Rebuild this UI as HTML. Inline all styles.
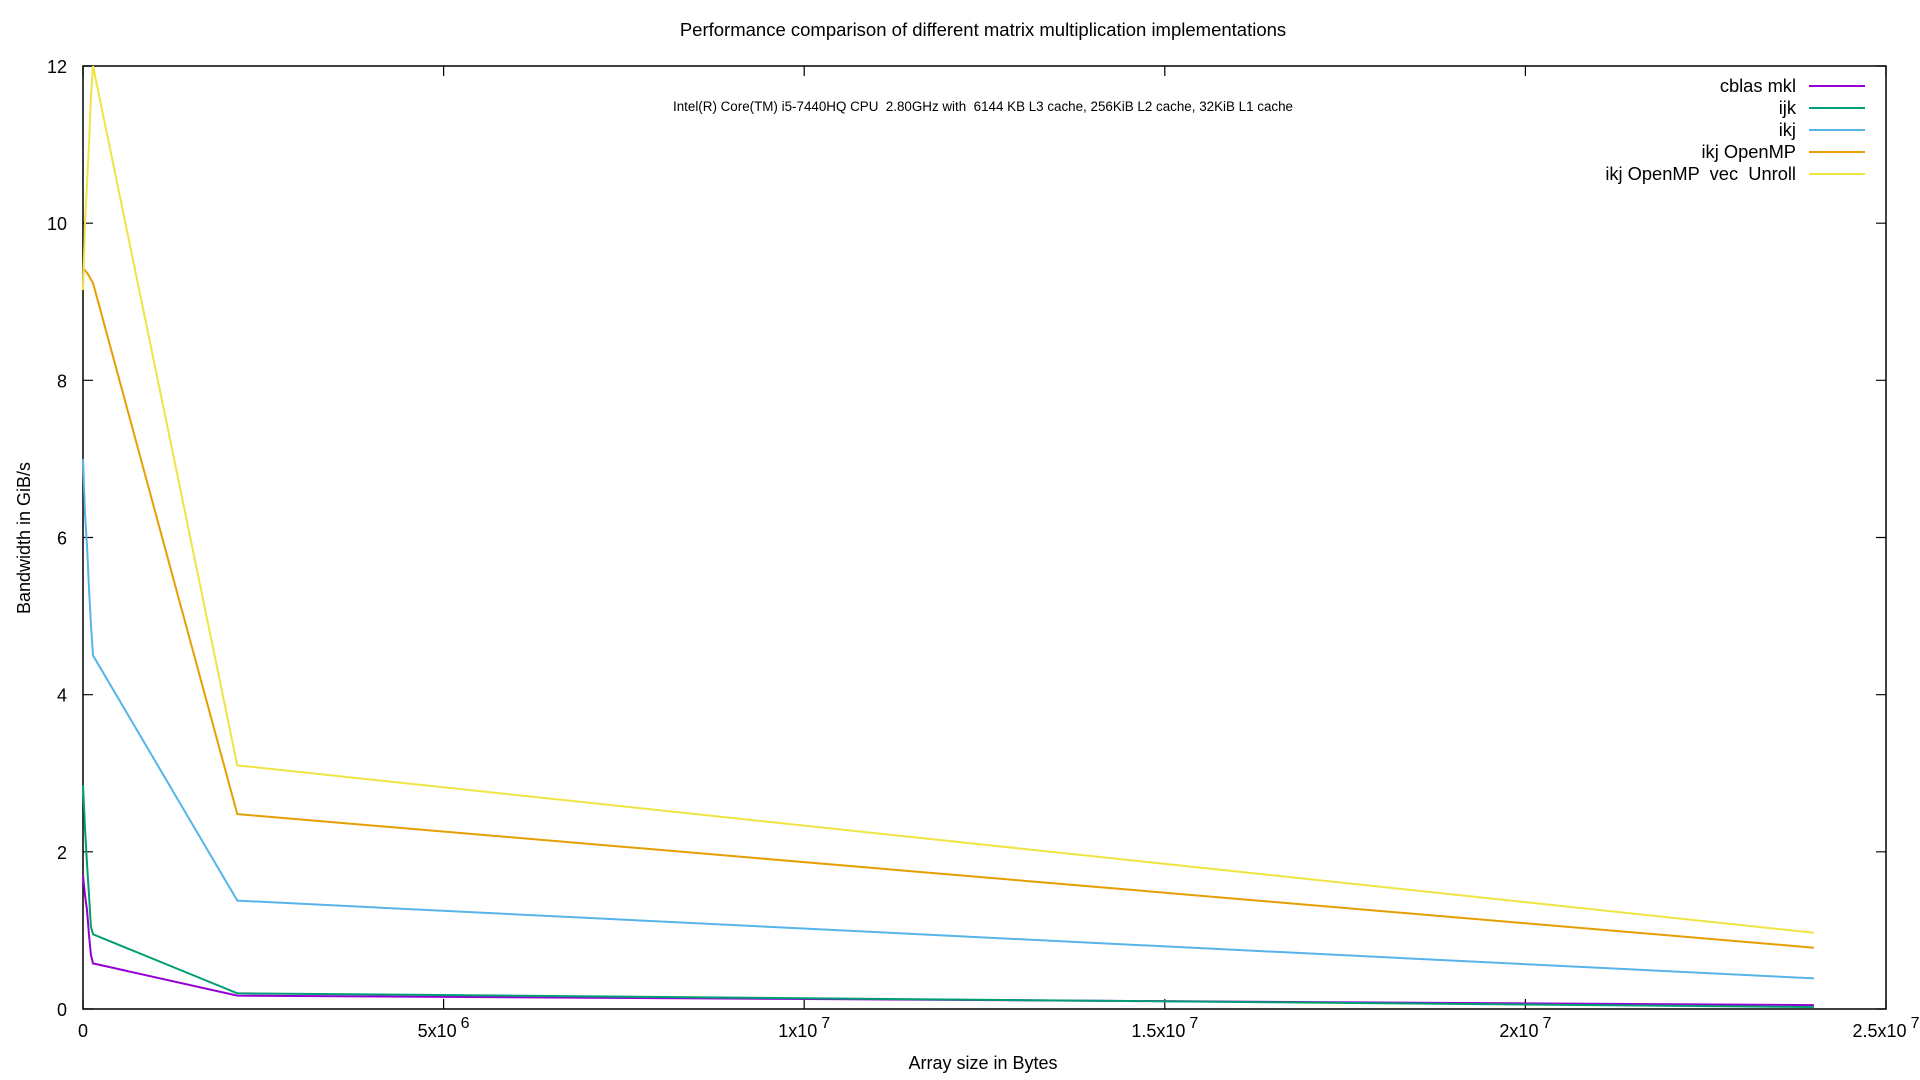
<!DOCTYPE html>
<html><head><meta charset="utf-8"><style>
html,body{margin:0;padding:0;background:#fff;}
svg{display:block;font-family:"Liberation Sans",sans-serif;}
text{white-space:pre;}
</style></head><body>
<svg id="chart" width="1920" height="1080" xmlns="http://www.w3.org/2000/svg">
<text x="983" y="36" font-size="18.5" text-anchor="middle">Performance comparison of different matrix multiplication implementations</text>
<text x="983" y="111" font-size="13.4" text-anchor="middle" xml:space="preserve">Intel(R) Core(TM) i5-7440HQ CPU  2.80GHz with  6144 KB L3 cache, 256KiB L2 cache, 32KiB L1 cache</text>
<text x="983" y="1069" font-size="18" text-anchor="middle">Array size in Bytes</text>
<text x="30" y="538" font-size="18" text-anchor="middle" transform="rotate(-90 30 538)">Bandwidth in GiB/s</text>
<g id="axes"></g>
<g id="series"></g>
<g id="legend"></g>
</svg>
<script>
const xValues = [0, 28000, 55000, 83000, 110000, 139000, 2140000, 24000000];
const mklValues = [1.7, 1.45, 1.26, 0.94, 0.69, 0.58, 0.17, 0.05];
const ijkValues = [2.85, 2.3, 1.85, 1.45, 1.05, 0.95, 0.2, 0.025];
const ikjValues = [7.0, 6.3, 5.9, 5.35, 4.9, 4.5, 1.38, 0.39];
const ompValues = [9.43, 9.4, 9.37, 9.33, 9.28, 9.24, 2.48, 0.78];
const vecValues = [9.15, 10.0, 10.5, 11.0, 11.6, 12.0, 3.1, 0.97];
const seriesNames = ["cblas mkl", "ijk", "ikj", "ikj OpenMP", "ikj OpenMP  vec  Unroll"];
const seriesColors = ["#9400d3", "#009e73", "#56b4e9", "#e69f00", "#f0e442"];
const yTicks = [0, 2, 4, 6, 8, 10, 12];
const xTicks = [0, 5e6, 1e7, 1.5e7, 2e7, 2.5e7];
const xTickMant = ["0", "5x10", "1x10", "1.5x10", "2x10", "2.5x10"];
const xTickExp = ["", "6", "7", "7", "7", "7"];

const NS = "http://www.w3.org/2000/svg";
const L = 83, R = 1886, T = 66, B = 1009;
const xMax = 2.5e7, yMax = 12;
function sx(v){ return L + v / xMax * (R - L); }
function sy(v){ return B - v / yMax * (B - T); }
function mk(tag, attrs, parent){
  const e = document.createElementNS(NS, tag);
  for (const k in attrs) e.setAttribute(k, attrs[k]);
  parent.appendChild(e);
  return e;
}
const axes = document.getElementById("axes");
const frame = mk("rect", {x:L, y:T, width:R-L, height:B-T, fill:"none", stroke:"#000", "stroke-width":1.5}, axes);


yTicks.forEach(v => {
  const y = sy(v);
  const t1 = mk("path", {d:`M${L},${y}h10M${R},${y}h-10`, stroke:"#000", "stroke-width":1.2}, axes);
  
  
  const lb = mk("text", {x:L-16, y:y+7, "font-size":18, "text-anchor":"end"}, axes);
  lb.textContent = String(v);
  
  
});
xTicks.forEach((v, i) => {
  const x = sx(v);
  const t1 = mk("path", {d:`M${x},${B}v-10M${x},${T}v10`, stroke:"#000", "stroke-width":1.2}, axes);
  
  
  const lb = mk("text", {x:x, y:1037, "font-size":18, "text-anchor":"middle"}, axes);
  lb.textContent = xTickMant[i];
  if (xTickExp[i]) {
    const sp = mk("tspan", {dx:4, dy:-9, "font-size":16}, lb);
    sp.textContent = xTickExp[i];
  }
  
  
});
const allSeries = [mklValues, ijkValues, ikjValues, ompValues, vecValues];
const sg = document.getElementById("series");
const lg = document.getElementById("legend");
allSeries.forEach((vals, i) => {
  const pts = vals.map((v, j) => sx(xValues[j]).toFixed(1) + "," + sy(v).toFixed(1)).join(" ");
  const pl = mk("polyline", {points:pts, fill:"none", stroke:seriesColors[i], "stroke-width":2}, sg);
  
  
  const ly = 86 + i * 22;
  const tx = mk("text", {x:1796, y:ly+6, "font-size":18.3, "text-anchor":"end"}, lg);
  tx.setAttributeNS("http://www.w3.org/XML/1998/namespace", "xml:space", "preserve");
  tx.textContent = seriesNames[i];
  
  
  const ln = mk("line", {x1:1809, x2:1865, y1:ly, y2:ly, stroke:seriesColors[i], "stroke-width":2}, lg);
  
  
});
</script>
</body></html>
